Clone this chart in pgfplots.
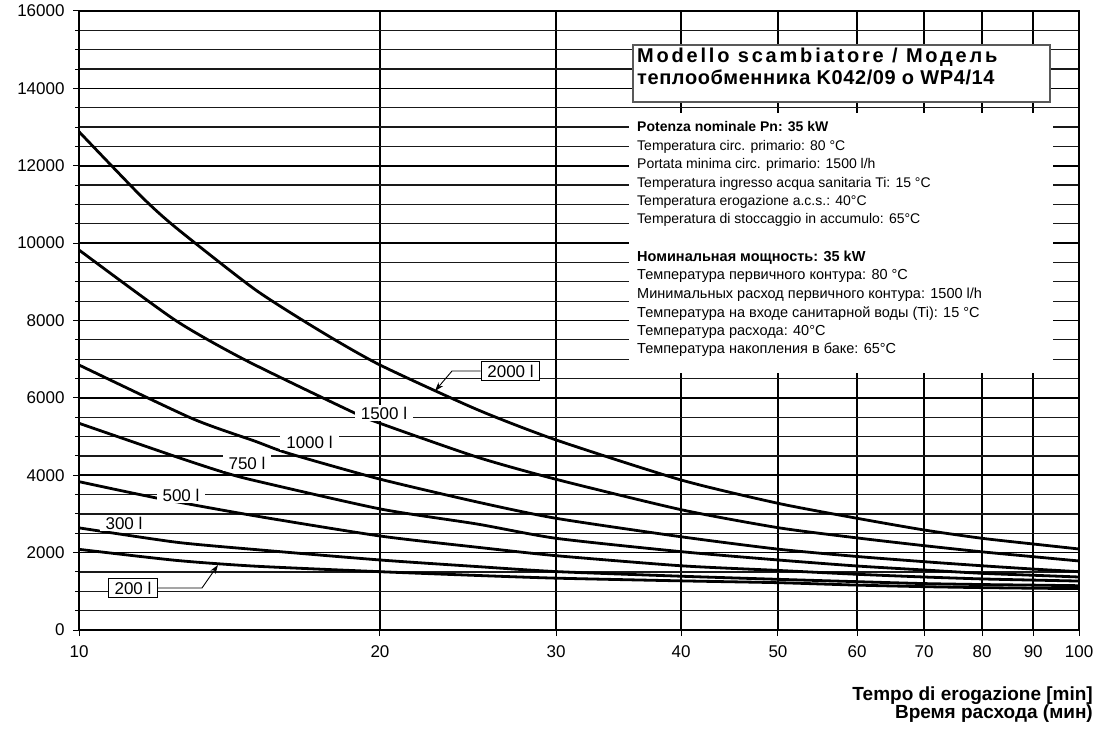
\documentclass[border=0pt]{standalone}
\usepackage{fontspec}
\setmainfont{Liberation Sans}
\usepackage{pgfplots}
\pgfplotsset{compat=1.18}
\usetikzlibrary{arrows.meta}

\begin{document}
\begin{tikzpicture}
\begin{axis}[
  at={(0pt,0pt)}, anchor=south west,
  scale only axis, width=1000pt, height=619pt,
  xmode=log, log basis x=10,
  xmin=10, xmax=100, ymin=0, ymax=16000,
  xtick={10,20,30,40,50,60,70,80,90,100},
  xticklabels={10,20,30,40,50,60,70,80,90,100},
  minor xtick={},
  ytick={0,2000,4000,6000,8000,10000,12000,14000,16000},
  yticklabels={0,2000,4000,6000,8000,10000,12000,14000,16000},
  minor ytick={500,1000,1500,2500,3000,3500,4500,5000,5500,6500,7000,7500,8500,9000,9500,10500,11000,11500,12500,13000,13500,14500,15000,15500},
  xtick pos=bottom, ytick pos=left,
  tick align=outside,
  major tick length=6pt, minor tick length=4pt,
  tick style={black, line width=1pt},
  grid=both,
  major grid style={black, line width=1.6pt},
  minor grid style={black!90, line width=1.3pt},
  axis line style={black, line width=1.8pt},
  tick label style={font=\fontsize{17}{18}\selectfont},
  every tick label/.append style={font=\fontsize{17}{18}\selectfont},
  xticklabel style={yshift=-6pt},
  yticklabel style={xshift=-5pt},
  clip mode=individual,
  cycle list={{black, solid, line width=2.8pt, smooth, tension=0.4, mark=none}},
]
% 2000 l
\addplot[black, solid, line width=2.8pt, smooth, tension=0.4, mark=none] coordinates {(10,12880) (11.55,11200) (12.5,10400) (15,8800) (17.5,7700) (20,6850) (25,5700) (30,4912) (40,3878) (50,3275) (60,2887) (70,2585) (80,2370) (90,2223) (100,2094)};
% 1500 l
\addplot[black, solid, line width=2.8pt, smooth, tension=0.4, mark=none] coordinates {(10,9823) (12.47,8014) (14.66,6980) (18.74,5644) (20,5343) (25,4470) (30,3895) (40,3110) (50,2645) (60,2380) (70,2180) (80,2020) (90,1895) (100,1784)};
% 1000 l
\addplot[black, solid, line width=2.8pt, smooth, tension=0.4, mark=none] coordinates {(10,6850) (12.96,5472) (15,4880) (16.19,4568) (20,3900) (25,3310) (30,2887) (40,2410) (50,2090) (60,1900) (70,1766) (80,1660) (90,1575) (100,1507)};
% 750 l
\addplot[black, solid, line width=2.8pt, smooth, tension=0.4, mark=none] coordinates {(10,5343) (12.5,4480) (13.89,4092) (15,3860) (20,3130) (25,2740) (30,2370) (40,2025) (50,1810) (60,1654) (70,1551) (80,1465) (90,1415) (100,1370)};
% 500 l
\addplot[black, solid, line width=2.8pt, smooth, tension=0.4, mark=none] coordinates {(10,3834) (12,3404) (15,2950) (20,2430) (25,2140) (30,1921) (40,1660) (50,1540) (60,1440) (70,1370) (80,1320) (90,1290) (100,1265)};
% 300 l
\addplot[black, solid, line width=2.8pt, smooth, tension=0.4, mark=none] coordinates {(10,2640) (12.5,2270) (15,2080) (20,1810) (25,1640) (30,1510) (40,1390) (50,1310) (60,1249) (70,1200) (80,1175) (90,1160) (100,1145)};
% 200 l
\addplot[black, solid, line width=2.8pt, smooth, tension=0.4, mark=none] coordinates {(10,2085) (12.5,1800) (15,1650) (20,1507) (25,1410) (30,1340) (40,1270) (50,1223) (60,1160) (70,1120) (80,1095) (90,1080) (100,1070)};
\end{axis}

% curve labels
\tikzset{lab/.style={font=\fontsize{17}{18}\selectfont, fill=white, inner xsep=6pt, inner ysep=2pt}}
\node[lab] at (305pt,217pt) {1500 l};
\node[lab] at (230.5pt,188pt) {1000 l};
\node[lab] at (168pt,167pt) {750 l};
\node[lab] at (102pt,135pt) {500 l};
\node[lab] at (45pt,107pt) {300 l};
\node[lab, draw=black, line width=1.2pt, inner ysep=3pt] (b200) at (54pt,42pt) {200 l};
\node[lab, draw=black, line width=1.2pt, inner ysep=3pt] (b2000) at (431.5pt,259pt) {2000 l};
\draw[line width=0.9pt, -{Stealth[length=9pt,width=6pt]}] (b200.east) -- (123pt,42pt) -- (139pt,65pt);
\draw[line width=0.9pt, -{Stealth[length=9pt,width=6pt]}] (b2000.west) -- (373pt,259pt) -- (356pt,239pt);

% title box
\draw[fill=white, draw=black!65, line width=1.5pt] (554pt,528pt) rectangle (971pt,585pt);
\node[anchor=base west, inner sep=0pt, font=\bfseries\fontsize{20}{22}\selectfont] at (558pt,567pt) {\addfontfeature{LetterSpace=14}Modello scambiatore / Модель};
\node[anchor=base west, inner sep=0pt, font=\bfseries\fontsize{20}{22}\selectfont] at (558pt,545pt) {\addfontfeature{LetterSpace=3}теплообменника K042/09 o WP4/14};

% info box
\fill[white] (550pt,257pt) rectangle (974pt,517pt);
\begin{scope}[every node/.style={anchor=base west, inner sep=0pt, font=\fontsize{14}{16}\selectfont}]
\node at (558pt,498pt) {\bfseries Potenza nominale Pn: 35 kW};
\node at (558pt,479pt) {Temperatura circ. primario: 80 °C};
\node at (558pt,461pt) {Portata minima circ. primario: 1500 l/h};
\node at (558pt,442pt) {Temperatura ingresso acqua sanitaria Ti: 15 °C};
\node at (558pt,424pt) {Temperatura erogazione a.c.s.: 40°C};
\node at (558pt,406pt) {Temperatura di stoccaggio in accumulo: 65°C};
\end{scope}
\begin{scope}[every node/.style={anchor=base west, inner sep=0pt, font=\fontsize{14.5}{16}\selectfont}]
\node at (558pt,368pt) {\bfseries Номинальная мощность: 35 kW};
\node at (558pt,350pt) {Температура первичного контура: 80 °C};
\node at (558pt,331pt) {Минимальных расход первичного контура: 1500 l/h};
\node at (558pt,312pt) {Температура на входе санитарной воды (Ti): 15 °C};
\node at (558pt,294pt) {Температура расхода: 40°C};
\node at (558pt,276pt) {Температура накопления в баке: 65°C};
\end{scope}

% axis title
\node[anchor=base east, inner sep=0pt, font=\bfseries\fontsize{19}{20}\selectfont] at (1014pt,-70pt) {Tempo di erogazione [min]};
\node[anchor=base east, inner sep=0pt, font=\bfseries\fontsize{19}{20}\selectfont] at (1014pt,-88pt) {Время расхода (мин)};

\pgfresetboundingbox
\path[use as bounding box] (-79pt,-101pt) rectangle (1031pt,630pt);
\end{tikzpicture}
\end{document}
